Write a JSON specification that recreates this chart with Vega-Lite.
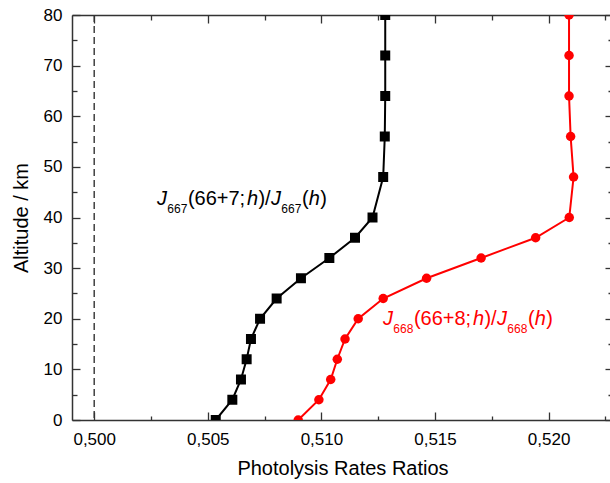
{
  "$schema": "https://vega.github.io/schema/vega-lite/v6.json",
  "width": 541,
  "height": 405,
  "autosize": "none",
  "padding": {"left": 72, "top": 15, "right": 0, "bottom": 63},
  "background": "white",
  "config": {
    "view": {"stroke": null},
    "axis": {
      "labelFont": "Liberation Sans",
      "titleFont": "Liberation Sans",
      "labelFontSize": 17,
      "titleFontSize": 20,
      "titleFontWeight": "normal",
      "labelColor": "#000000",
      "titleColor": "#000000",
      "tickColor": "#333333",
      "domainColor": "#333333",
      "tickWidth": 1.3,
      "domainWidth": 1.5,
      "grid": false
    }
  },
  "datasets": {
    "profiles": [
      {"series": "J667", "alt": 0, "ratio": 0.50535},
      {"series": "J667", "alt": 4, "ratio": 0.50608},
      {"series": "J667", "alt": 8, "ratio": 0.50646},
      {"series": "J667", "alt": 12, "ratio": 0.50671},
      {"series": "J667", "alt": 16, "ratio": 0.50690},
      {"series": "J667", "alt": 20, "ratio": 0.50730},
      {"series": "J667", "alt": 24, "ratio": 0.50803},
      {"series": "J667", "alt": 28, "ratio": 0.50910},
      {"series": "J667", "alt": 32, "ratio": 0.51035},
      {"series": "J667", "alt": 36, "ratio": 0.51148},
      {"series": "J667", "alt": 40, "ratio": 0.51225},
      {"series": "J667", "alt": 48, "ratio": 0.51272},
      {"series": "J667", "alt": 56, "ratio": 0.51279},
      {"series": "J667", "alt": 64, "ratio": 0.51281},
      {"series": "J667", "alt": 72, "ratio": 0.51281},
      {"series": "J667", "alt": 80, "ratio": 0.51281},
      {"series": "J668", "alt": 0, "ratio": 0.50898},
      {"series": "J668", "alt": 4, "ratio": 0.50989},
      {"series": "J668", "alt": 8, "ratio": 0.51041},
      {"series": "J668", "alt": 12, "ratio": 0.51070},
      {"series": "J668", "alt": 16, "ratio": 0.51104},
      {"series": "J668", "alt": 20, "ratio": 0.51162},
      {"series": "J668", "alt": 24, "ratio": 0.51272},
      {"series": "J668", "alt": 28, "ratio": 0.51463},
      {"series": "J668", "alt": 32, "ratio": 0.51703},
      {"series": "J668", "alt": 36, "ratio": 0.51943},
      {"series": "J668", "alt": 40, "ratio": 0.52091},
      {"series": "J668", "alt": 48, "ratio": 0.52110},
      {"series": "J668", "alt": 56, "ratio": 0.52097},
      {"series": "J668", "alt": 64, "ratio": 0.52090},
      {"series": "J668", "alt": 72, "ratio": 0.52090},
      {"series": "J668", "alt": 80, "ratio": 0.52090}
    ],
    "labels": [
      {"series": "J667", "kind": "var", "t": "J", "x": 0.502764, "y": 42.51},
      {"series": "J667", "kind": "sub", "t": "667", "x": 0.503217, "y": 42.51},
      {"series": "J667", "kind": "text", "t": "(66+7;", "x": 0.504124, "y": 42.51},
      {"series": "J667", "kind": "var", "t": "h", "x": 0.506725, "y": 42.51},
      {"series": "J667", "kind": "text", "t": ")/", "x": 0.507227, "y": 42.51},
      {"series": "J667", "kind": "var", "t": "J", "x": 0.507782, "y": 42.51},
      {"series": "J667", "kind": "sub", "t": "667", "x": 0.508235, "y": 42.51},
      {"series": "J667", "kind": "text", "t": "(", "x": 0.509142, "y": 42.51},
      {"series": "J667", "kind": "var", "t": "h", "x": 0.509445, "y": 42.51},
      {"series": "J667", "kind": "text", "t": ")", "x": 0.509947, "y": 42.51},
      {"series": "J668", "kind": "var", "t": "J", "x": 0.512711, "y": 18.84},
      {"series": "J668", "kind": "sub", "t": "668", "x": 0.513165, "y": 18.84},
      {"series": "J668", "kind": "text", "t": "(66+8;", "x": 0.514071, "y": 18.84},
      {"series": "J668", "kind": "var", "t": "h", "x": 0.516673, "y": 18.84},
      {"series": "J668", "kind": "text", "t": ")/", "x": 0.517174, "y": 18.84},
      {"series": "J668", "kind": "var", "t": "J", "x": 0.517729, "y": 18.84},
      {"series": "J668", "kind": "sub", "t": "668", "x": 0.518182, "y": 18.84},
      {"series": "J668", "kind": "text", "t": "(", "x": 0.519089, "y": 18.84},
      {"series": "J668", "kind": "var", "t": "h", "x": 0.519393, "y": 18.84},
      {"series": "J668", "kind": "text", "t": ")", "x": 0.519894, "y": 18.84}
    ],
    "reference": [{"ratio": 0.5}]
  },
  "resolve": {"axis": {"x": "independent", "y": "independent"}},
  "layer": [
    {
      "data": {"name": "reference"},
      "mark": {"type": "rule", "strokeDash": [7, 4], "color": "#333333", "strokeWidth": 1.4},
      "encoding": {
        "x": {"field": "ratio", "type": "quantitative", "scale": {"domain": [0.499023, 0.522835], "nice": false, "zero": false}, "axis": null}
      }
    },
    {
      "data": {"name": "profiles"},
      "mark": {"type": "line", "strokeWidth": 2, "clip": true},
      "encoding": {
        "x": {"field": "ratio", "type": "quantitative", "scale": {"domain": [0.499023, 0.522835], "nice": false, "zero": false},
          "axis": {"orient": "bottom", "values": [0.5, 0.505, 0.51, 0.515, 0.52], "tickSize": -8, "labelPadding": 19,
            "labelExpr": "replace(format(datum.value, '.3f'), '.', ',')", "labelFlush": false, "labelOverlap": false,
            "title": "Photolysis Rates Ratios", "titlePadding": 11}},
        "y": {"field": "alt", "type": "quantitative", "scale": {"domain": [0, 80], "nice": false},
          "axis": {"orient": "left", "values": [0, 10, 20, 30, 40, 50, 60, 70, 80], "tickSize": -8, "labelPadding": 18,
            "labelFlush": false, "labelOverlap": false, "title": "Altitude / km", "titlePadding": 12}},
        "color": {"field": "series", "type": "nominal", "scale": {"domain": ["J667", "J668"], "range": ["#000000", "#ff0000"]}, "legend": null},
        "order": {"field": "alt", "type": "quantitative"}
      }
    },
    {
      "data": {"name": "profiles"},
      "transform": [{"filter": "datum.series === 'J667'"}],
      "mark": {"type": "point", "shape": "square", "filled": true, "size": 100, "opacity": 1, "color": "#000000", "clip": true},
      "encoding": {
        "x": {"field": "ratio", "type": "quantitative", "scale": {"domain": [0.499023, 0.522835], "nice": false, "zero": false},
          "axis": {"orient": "bottom", "values": [0.5025, 0.5075, 0.5125, 0.5175, 0.5225], "tickSize": -4, "labels": false, "domain": false, "title": null}},
        "y": {"field": "alt", "type": "quantitative", "scale": {"domain": [0, 80], "nice": false},
          "axis": {"orient": "left", "values": [5, 15, 25, 35, 45, 55, 65, 75], "tickSize": -5, "labels": false, "domain": false, "title": null}}
      }
    },
    {
      "data": {"name": "profiles"},
      "transform": [{"filter": "datum.series === 'J668'"}],
      "mark": {"type": "point", "shape": "circle", "filled": true, "size": 90, "opacity": 1, "color": "#ff0000", "clip": true},
      "encoding": {
        "x": {"field": "ratio", "type": "quantitative", "scale": {"domain": [0.499023, 0.522835], "nice": false, "zero": false},
          "axis": {"orient": "top", "values": [0.5, 0.505, 0.51, 0.515, 0.52], "tickSize": -8, "labels": false, "title": null}},
        "y": {"field": "alt", "type": "quantitative", "scale": {"domain": [0, 80], "nice": false},
          "axis": {"orient": "right", "values": [0, 10, 20, 30, 40, 50, 60, 70, 80], "tickSize": -8, "labels": false, "title": null}}
      }
    },
    {
      "data": {"name": "labels"},
      "transform": [{"filter": "datum.kind === 'var'"}],
      "mark": {"type": "text", "font": "Liberation Sans", "fontSize": 20, "fontStyle": "italic", "align": "left", "baseline": "alphabetic"},
      "encoding": {
        "x": {"field": "x", "type": "quantitative", "scale": {"domain": [0.499023, 0.522835], "nice": false, "zero": false},
          "axis": {"orient": "top", "values": [0.5025, 0.5075, 0.5125, 0.5175, 0.5225], "tickSize": -5, "labels": false, "domain": false, "title": null}},
        "y": {"field": "y", "type": "quantitative", "scale": {"domain": [0, 80], "nice": false},
          "axis": {"orient": "right", "values": [5, 15, 25, 35, 45, 55, 65, 75], "tickSize": -5, "labels": false, "domain": false, "title": null}},
        "text": {"field": "t"},
        "color": {"field": "series", "type": "nominal", "scale": {"domain": ["J667", "J668"], "range": ["#000000", "#ff0000"]}, "legend": null}
      }
    },
    {
      "data": {"name": "labels"},
      "transform": [{"filter": "datum.kind === 'text'"}],
      "mark": {"type": "text", "font": "Liberation Sans", "fontSize": 20, "align": "left", "baseline": "alphabetic"},
      "encoding": {
        "x": {"field": "x", "type": "quantitative", "scale": {"domain": [0.499023, 0.522835], "nice": false, "zero": false}, "axis": null},
        "y": {"field": "y", "type": "quantitative", "scale": {"domain": [0, 80], "nice": false}, "axis": null},
        "text": {"field": "t"},
        "color": {"field": "series", "type": "nominal", "scale": {"domain": ["J667", "J668"], "range": ["#000000", "#ff0000"]}, "legend": null}
      }
    },
    {
      "data": {"name": "labels"},
      "transform": [{"filter": "datum.kind === 'sub'"}],
      "mark": {"type": "text", "font": "Liberation Sans", "fontSize": 12, "align": "left", "baseline": "alphabetic", "dy": 8.5},
      "encoding": {
        "x": {"field": "x", "type": "quantitative", "scale": {"domain": [0.499023, 0.522835], "nice": false, "zero": false}, "axis": null},
        "y": {"field": "y", "type": "quantitative", "scale": {"domain": [0, 80], "nice": false}, "axis": null},
        "text": {"field": "t"},
        "color": {"field": "series", "type": "nominal", "scale": {"domain": ["J667", "J668"], "range": ["#000000", "#ff0000"]}, "legend": null}
      }
    }
  ]
}
